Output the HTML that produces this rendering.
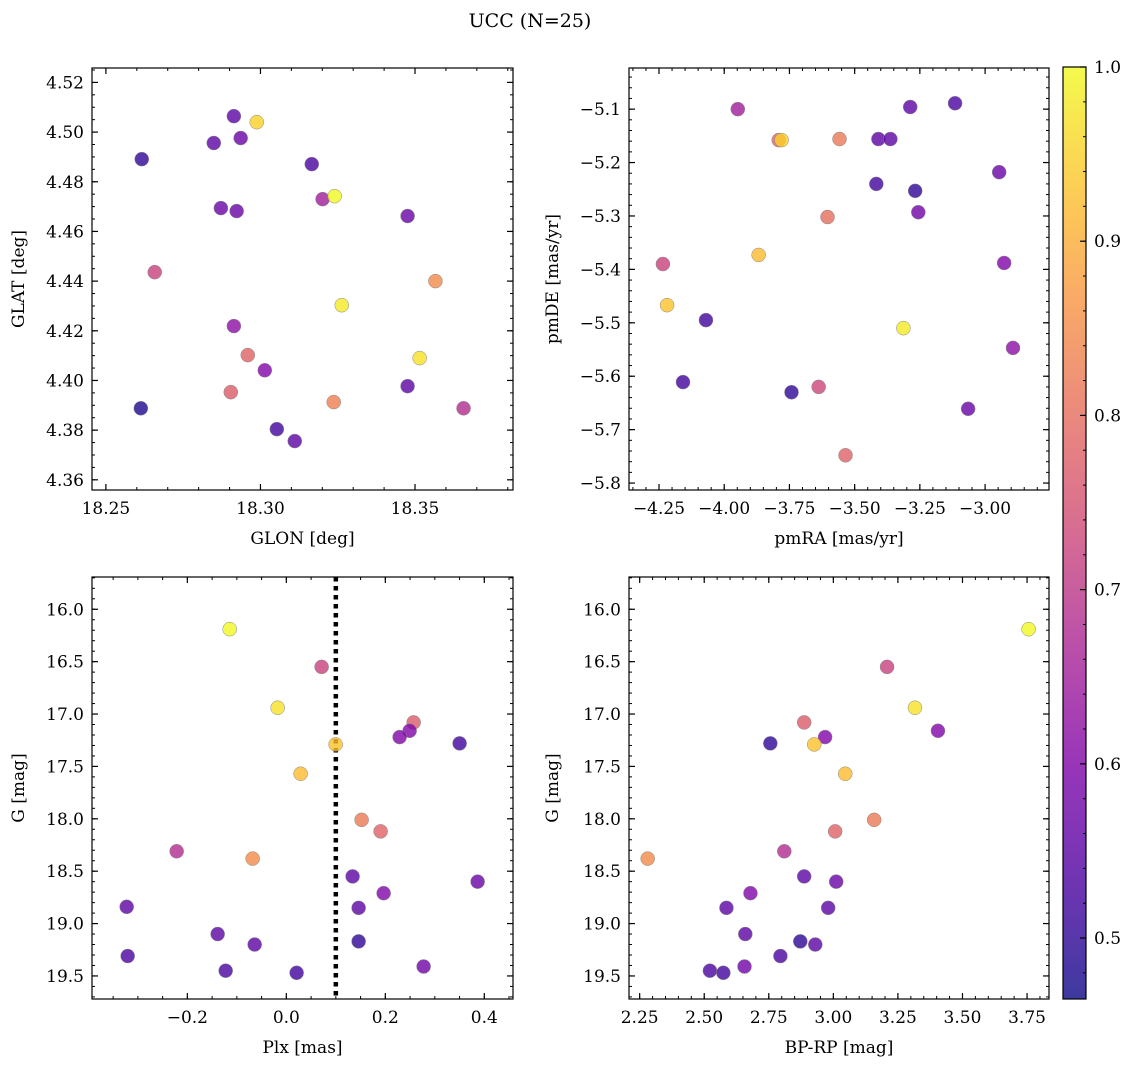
<!DOCTYPE html>
<html><head><meta charset="utf-8">
<style>
html,body{margin:0;padding:0;background:#fff;}
svg{display:block;font-family:"DejaVu Serif","Liberation Serif",serif;}
</style></head>
<body>
<svg id="fig" width="1136" height="1067" viewBox="0 0 1136 1067" xmlns="http://www.w3.org/2000/svg">
<text x="530" y="27" font-size="19" text-anchor="middle" fill="#000">UCC (N=25)</text>
</svg>
<script>
// ---- data ----
const probs = [0.50,0.55,0.95,0.55,0.57,0.53,0.57,0.57,0.65,1.00,0.57,0.72,0.98,0.85,0.62,0.78,0.60,0.97,0.77,0.55,0.48,0.83,0.68,0.52,0.55];
const glon = [18.2616,18.2914,18.2988,18.2849,18.2936,18.3166,18.2872,18.2923,18.3201,18.3240,18.3476,18.2658,18.3263,18.3566,18.2914,18.2959,18.3014,18.3515,18.2904,18.3476,18.2613,18.3237,18.3657,18.3053,18.3111];
const glat = [4.4891,4.5064,4.5040,4.4956,4.4976,4.4871,4.4694,4.4682,4.4730,4.4742,4.4662,4.4436,4.4303,4.4400,4.4219,4.4102,4.4041,4.4090,4.3953,4.3977,4.3888,4.3913,4.3888,4.3804,4.3756];

const pmColor = [0.65,0.78,0.95,0.82,0.55,0.55,0.55,0.53,0.52,0.50,0.58,0.57,0.80,0.92,0.60,0.72,0.93,0.52,0.98,0.62,0.52,0.50,0.73,0.57,0.78];
const pmra = [-3.948,-3.791,-3.780,-3.558,-3.409,-3.363,-3.287,-3.115,-3.417,-3.268,-3.256,-2.946,-3.604,-3.868,-2.927,-4.235,-4.219,-4.070,-3.313,-2.893,-4.158,-3.742,-3.638,-3.065,-3.535];
const pmde = [-5.100,-5.158,-5.158,-5.156,-5.156,-5.156,-5.096,-5.089,-5.240,-5.253,-5.293,-5.218,-5.302,-5.373,-5.388,-5.390,-5.467,-5.495,-5.510,-5.547,-5.611,-5.630,-5.620,-5.661,-5.748];

const phColor = [1.00,0.72,0.97,0.93,0.92,0.77,0.60,0.60,0.52,0.82,0.78,0.68,0.85,0.55,0.57,0.60,0.55,0.55,0.55,0.55,0.50,0.53,0.58,0.53,0.52];
const gmag = [16.19,16.55,16.94,17.29,17.57,17.08,17.16,17.22,17.28,18.01,18.12,18.31,18.38,18.55,18.60,18.71,18.85,18.84,19.10,19.20,19.17,19.31,19.41,19.45,19.47];
const plx = [-0.1145,0.0713,-0.0176,0.0996,0.0289,0.2572,0.2491,0.2289,0.3501,0.1521,0.1905,-0.2216,-0.0681,0.1339,0.3865,0.1966,0.1461,-0.3226,-0.1388,-0.0640,0.1461,-0.3206,0.2774,-0.1226,0.0208];
const plxLine = [0.1];

const cmdColor = [1.00,0.72,0.97,0.77,0.60,0.60,0.50,0.93,0.92,0.82,0.78,0.68,0.85,0.55,0.57,0.60,0.55,0.55,0.55,0.55,0.50,0.53,0.58,0.53,0.52];
const gmag4 = [16.19,16.55,16.94,17.08,17.22,17.16,17.28,17.29,17.57,18.01,18.12,18.31,18.38,18.55,18.60,18.71,18.85,18.85,19.10,19.20,19.17,19.31,19.41,19.45,19.47];
const bprp = [3.756,3.208,3.316,2.887,2.968,3.405,2.756,2.926,3.046,3.158,3.007,2.810,2.281,2.887,3.011,2.679,2.586,2.980,2.659,2.930,2.872,2.795,2.656,2.522,2.574];

const xTicks1 = [18.25,18.30,18.35];
const yTicks1 = [4.36,4.38,4.40,4.42,4.44,4.46,4.48,4.50,4.52];
const xTicks2 = [-4.25,-4.00,-3.75,-3.50,-3.25,-3.00];
const yTicks2 = [-5.8,-5.7,-5.6,-5.5,-5.4,-5.3,-5.2,-5.1];
const xTicks3 = [-0.2,0.0,0.2,0.4];
const yTicksG = [16.0,16.5,17.0,17.5,18.0,18.5,19.0,19.5];
const xTicks4 = [2.25,2.50,2.75,3.00,3.25,3.50,3.75];
const cbTicks = [0.5,0.6,0.7,0.8,0.9,1.0];
const cmin = 0.465, cmax = 1.0;

// ---- helpers ----
const NS = "http://www.w3.org/2000/svg";
const svg = document.getElementById('fig');
function mk(tag, attrs, parent){
  const e = document.createElementNS(NS, tag);
  for (const k in attrs) e.setAttribute(k, attrs[k]);
  (parent||svg).appendChild(e);
  return e;
}
const stops = [[0,13,8,135],[0.125,76,2,161],[0.25,126,3,168],[0.375,169,35,149],[0.5,204,71,120],[0.625,229,107,93],[0.75,248,148,65],[0.875,253,195,40],[1,240,249,33]];
function plasma(t){
  t = Math.max(0, Math.min(1, t));
  for (let i=1;i<stops.length;i++){
    if (t <= stops[i][0]){
      const a = stops[i-1], b = stops[i], f = (t-a[0])/(b[0]-a[0]);
      return 'rgb(' + [1,2,3].map(j=>Math.round(a[j]+(b[j]-a[j])*f)).join(',') + ')';
    }
  }
  return 'rgb(240,249,33)';
}
function fmt(v, d){ const s = v.toFixed(d); return s.replace('-', '\u2212'); }

function panel(cfg){
  const g = mk('g', {});
  
  
  const L=cfg.L, R=cfg.R, T=cfg.T, B=cfg.B;
  const sx = v => L + (v - cfg.xlim[0])/(cfg.xlim[1]-cfg.xlim[0])*(R-L);
  const sy = cfg.invert ? (v => T + (v - cfg.ylim[0])/(cfg.ylim[1]-cfg.ylim[0])*(B-T))
                        : (v => B - (v - cfg.ylim[0])/(cfg.ylim[1]-cfg.ylim[0])*(B-T));
  const clip = 'clip-' + cfg.name;
  const cp = mk('clipPath', {id: clip}, g);
  mk('rect', {x:L, y:T, width:R-L, height:B-T}, cp);
  const marks = mk('g', {'clip-path':'url(#'+clip+')'}, g);
  if (cfg.vline){
    cfg.vline.forEach(v=>{
      const ln = mk('line', {x1:sx(v), x2:sx(v), y1:T, y2:B, stroke:'#000', 'stroke-width':4.5, 'stroke-dasharray':'4.5,4.5'}, marks);
      
      
    });
  }
  cfg.xs.forEach((xv,i)=>{
    const c = mk('circle', {cx:sx(xv), cy:sy(cfg.ys[i]), r:7, fill:plasma((cfg.cs[i]-cmin)/(cmax-cmin)), 'fill-opacity':0.8, stroke:'#888', 'stroke-width':0.5}, marks);
    
    
  });
  mk('rect', {x:L, y:T, width:R-L, height:B-T, fill:'none', stroke:'#000', 'stroke-width':1.2}, g);
  const xstep = cfg.xTicks[1]-cfg.xTicks[0];
  const xminor = xstep/cfg.xMinorN;
  for (let v = cfg.xTicks[0] - 10*xstep; v <= cfg.xlim[1]+1e-9; v += xminor){
    if (v < cfg.xlim[0]-1e-9) continue;
    const x = sx(v);
    mk('line', {x1:x,x2:x,y1:B,y2:B-3,stroke:'#000','stroke-width':1}, g);
    mk('line', {x1:x,x2:x,y1:T,y2:T+3,stroke:'#000','stroke-width':1}, g);
  }
  cfg.xTicks.forEach(v=>{
    const x = sx(v);
    mk('line', {x1:x,x2:x,y1:B,y2:B-6,stroke:'#000','stroke-width':1.2}, g);
    mk('line', {x1:x,x2:x,y1:T,y2:T+6,stroke:'#000','stroke-width':1.2}, g);
    const t = mk('text', {x:x, y:B+24, 'font-size':17, 'text-anchor':'middle'}, g);
    t.textContent = fmt(v, cfg.xd);
    
    
  });
  const ystep = cfg.yTicks[1]-cfg.yTicks[0];
  const yminor = ystep/cfg.yMinorN;
  for (let v = cfg.yTicks[0] - 10*ystep; v <= Math.max(cfg.ylim[0],cfg.ylim[1])+1e-9; v += yminor){
    if (v < Math.min(cfg.ylim[0],cfg.ylim[1])-1e-9) continue;
    const y = sy(v);
    mk('line', {x1:L,x2:L+3,y1:y,y2:y,stroke:'#000','stroke-width':1}, g);
    mk('line', {x1:R,x2:R-3,y1:y,y2:y,stroke:'#000','stroke-width':1}, g);
  }
  cfg.yTicks.forEach(v=>{
    const y = sy(v);
    mk('line', {x1:L,x2:L+6,y1:y,y2:y,stroke:'#000','stroke-width':1.2}, g);
    mk('line', {x1:R,x2:R-6,y1:y,y2:y,stroke:'#000','stroke-width':1.2}, g);
    const t = mk('text', {x:L-8, y:y+6, 'font-size':17, 'text-anchor':'end'}, g);
    t.textContent = fmt(v, cfg.yd);
    
    
  });
  const xl = mk('text', {x:(L+R)/2, y:B+54, 'font-size':17, 'text-anchor':'middle'}, g);
  xl.textContent = cfg.xlabel;
  
  
  const yx = cfg.ylabelX, yy = (T+B)/2;
  const yl = mk('text', {x:yx, y:yy, 'font-size':17, 'text-anchor':'middle', transform:'rotate(-90 '+yx+' '+yy+')'}, g);
  yl.textContent = cfg.ylabel;
  
  
}

panel({name:'glon-glat-panel', L:92,R:513,T:68,B:490, xlim:[18.2455,18.3817], ylim:[4.3559,4.5258],
  xs:glon, ys:glat, cs:probs, xTicks:xTicks1, yTicks:yTicks1, xMinorN:5, yMinorN:4, xd:2, yd:2,
  xlabel:'GLON [deg]', ylabel:'GLAT [deg]', ylabelX:24});
panel({name:'pm-panel', L:629,R:1049,T:68,B:490, xlim:[-4.365,-2.755], ylim:[-5.813,-5.023],
  xs:pmra, ys:pmde, cs:pmColor, xTicks:xTicks2, yTicks:yTicks2, xMinorN:5, yMinorN:5, xd:2, yd:1,
  xlabel:'pmRA [mas/yr]', ylabel:'pmDE [mas/yr]', ylabelX:558});
panel({name:'plx-g-panel', L:92,R:513,T:577,B:999, xlim:[-0.3927,0.458], ylim:[15.692,19.72], invert:true,
  xs:plx, ys:gmag, cs:phColor, xTicks:xTicks3, yTicks:yTicksG, xMinorN:4, yMinorN:5, xd:1, yd:1,
  xlabel:'Plx [mas]', ylabel:'G [mag]', ylabelX:24, vline:plxLine});
panel({name:'cmd-panel', L:629,R:1049,T:577,B:999, xlim:[2.2087,3.835], ylim:[15.692,19.72], invert:true,
  xs:bprp, ys:gmag4, cs:cmdColor, xTicks:xTicks4, yTicks:yTicksG, xMinorN:5, yMinorN:5, xd:2, yd:1,
  xlabel:'BP-RP [mag]', ylabel:'G [mag]', ylabelX:558});

// ---- colorbar ----
(function(){
  const L=1063, R=1086, T=67, B=999;
  const g = mk('g', {});
  
  
  const defs = mk('defs', {}, g);
  const grad = mk('linearGradient', {id:'cbgrad', x1:0, y1:1, x2:0, y2:0}, defs);
  for (let i=0;i<=20;i++){
    mk('stop', {offset:(i/20), 'stop-color':plasma(i/20)}, grad);
  }
  mk('rect', {x:L, y:T, width:R-L, height:B-T, fill:'url(#cbgrad)', 'fill-opacity':0.8}, g);
  mk('rect', {x:L, y:T, width:R-L, height:B-T, fill:'none', stroke:'#000', 'stroke-width':1.2}, g);
  const sy = v => B - (v-cmin)/(cmax-cmin)*(B-T);
  for (let v=0.48; v<=1.0001; v+=0.02){
    mk('line', {x1:R,x2:R-3,y1:sy(v),y2:sy(v),stroke:'#000','stroke-width':1}, g);
  }
  cbTicks.forEach(v=>{
    const y = sy(v);
    mk('line', {x1:R,x2:R-6,y1:y,y2:y,stroke:'#000','stroke-width':1.2}, g);
    const t = mk('text', {x:R+8, y:y+6, 'font-size':17}, g);
    t.textContent = v.toFixed(1);
    
    
  });
})();
</script>
</body></html>
